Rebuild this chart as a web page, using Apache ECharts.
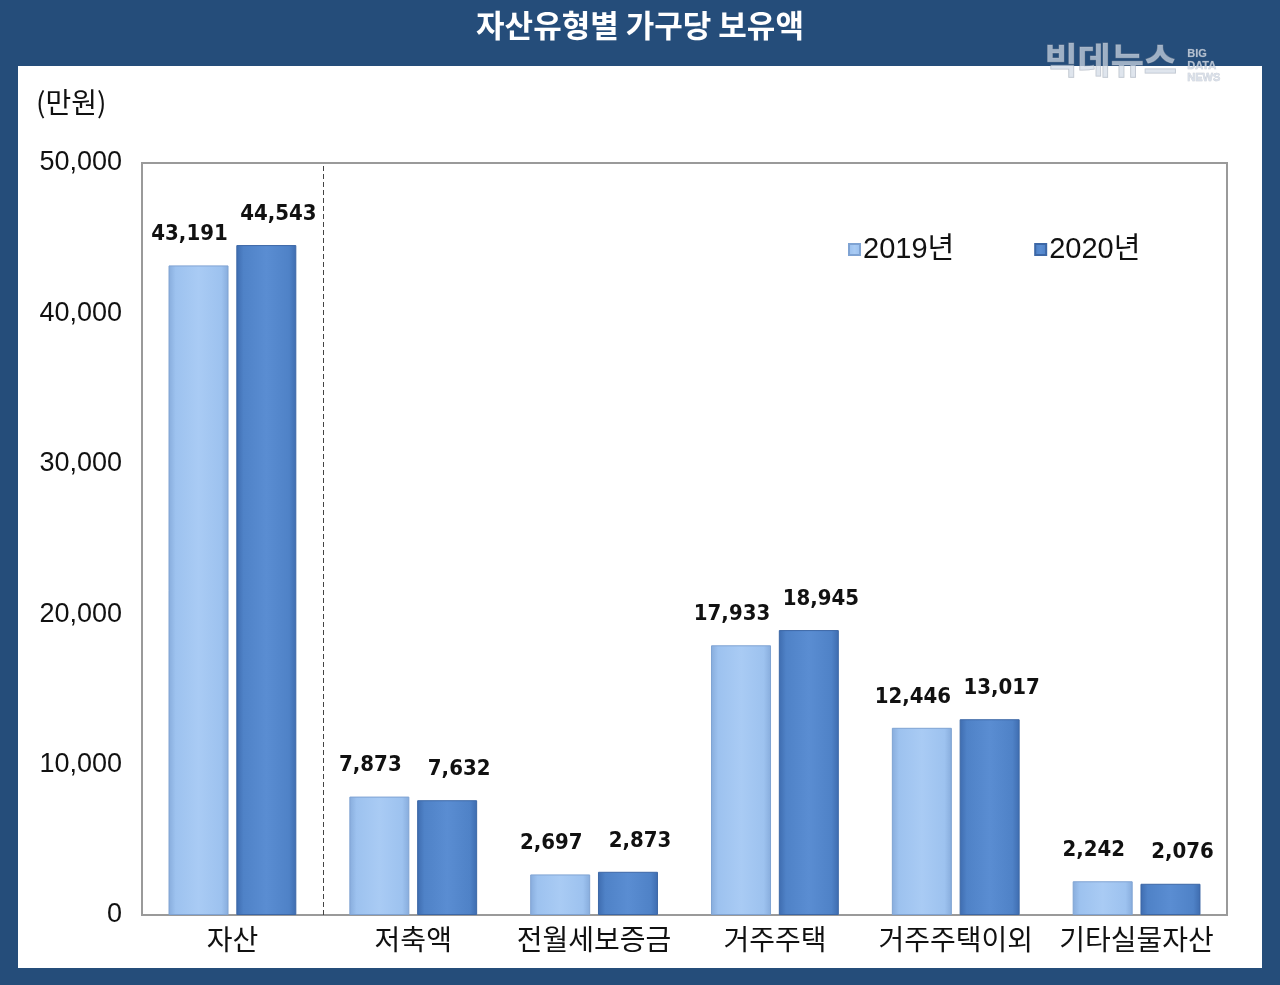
<!DOCTYPE html>
<html>
<head>
<meta charset="utf-8">
<script src="https://cdn.jsdelivr.net/npm/echarts@6/dist/echarts.min.js"></script>
<style>
html,body{margin:0;padding:0;background:#254d7a;}
#chart{width:1280px;height:985px;}
</style>
</head>
<body>
<div id="chart"></div>
<script>
const categories = ['자산', '저축액', '전월세보증금', '거주주택', '거주주택이외', '기타실물자산'];
const values2019 = [43191, 7873, 2697, 17933, 12446, 2242];
const values2020 = [44543, 7632, 2873, 18945, 13017, 2076];
const seriesNames = ['2019년', '2020년'];
const yMin = 0, yMax = 50000, yInterval = 10000;
const dividerAfter = 1; // dashed divider after the first category

const KR = '"Noto Sans CJK KR", "Noto Sans", sans-serif';
const NUM = '"DejaVu Sans Condensed", "DejaVu Sans", sans-serif';

function grad(edge, mid, light) {
  return new echarts.graphic.LinearGradient(0, 0, 1, 0, [
    {offset: 0, color: edge},
    {offset: 0.12, color: mid},
    {offset: 0.5, color: light},
    {offset: 0.88, color: mid},
    {offset: 1, color: edge}
  ]);
}
function fmt(v) { return Number(v).toLocaleString('en-US'); }

const chart = echarts.init(document.getElementById('chart'));
chart.setOption({
  backgroundColor: '#254d7a',
  animation: false,
  graphic: [
    {type: 'rect', z: -100, shape: {x: 18, y: 66, width: 1244, height: 902}, style: {fill: '#ffffff'}},
    {type: 'text', z: 100, left: 'center', top: 10, style: {text: '자산유형별 가구당 보유액', fill: '#ffffff', font: 'bold 31px ' + KR}},
    {type: 'text', z: 100, left: 36, top: 88, style: {text: '(만원)', fill: '#111', font: '28px ' + KR}},
    {type: 'text', z: 100, left: 1044, top: 42, style: {text: '빅데뉴스', fill: 'rgba(210,218,229,0.7)', stroke: 'rgba(140,150,165,0.6)', lineWidth: 1, font: 'bold 36px ' + KR}},
    {type: 'text', z: 100, left: 1187, top: 48, style: {text: 'BIG\nDATA\nNEWS', fill: 'rgba(210,218,229,0.8)', stroke: 'rgba(140,150,165,0.5)', lineWidth: 0.5, font: 'bold 11px "Liberation Sans Narrow", "Liberation Sans", sans-serif', lineHeight: 12}}
  ],
  legend: {
    left: 843, top: 230,
    itemWidth: 11, itemHeight: 11, itemGap: 80,
    icon: 'rect',
    textStyle: {fontSize: 29, color: '#111', fontFamily: '"Liberation Sans", ' + KR, padding: [0, 0, 0, -2]},
    data: seriesNames
  },
  grid: {
    left: 142, right: 53, top: 163, bottom: 70,
    show: true, borderColor: '#9a9a9a', borderWidth: 2, backgroundColor: 'transparent'
  },
  xAxis: [{
    type: 'category',
    data: categories,
    axisLine: {show: true, lineStyle: {color: '#9a9a9a', width: 2}},
    axisTick: {show: false},
    axisLabel: {interval: 0, fontSize: 28, color: '#111', fontFamily: KR, margin: 10},
    splitLine: {show: false}
  }, {
    type: 'value', min: 0, max: categories.length, show: false,
    position: 'bottom'
  }],
  yAxis: {
    type: 'value',
    min: yMin, max: yMax, interval: yInterval,
    axisLine: {show: false},
    axisTick: {show: false},
    splitLine: {show: false},
    axisLabel: {fontSize: 27, color: '#111', fontFamily: '"Liberation Sans", sans-serif', margin: 20, formatter: v => fmt(v)}
  },
  series: [
    {
      name: seriesNames[0], type: 'bar', data: values2019,
      barWidth: 60, barGap: '13%',
      itemStyle: {color: grad('#87acdc', '#9dc2ef', '#a9cbf4'), borderColor: '#7fa3d3', borderWidth: 1},
      label: {show: true, position: 'top', distance: 20, offset: [-9, 0], formatter: p => fmt(p.value),
        fontFamily: NUM, fontWeight: 'bold', fontSize: 22, color: '#111'}
    },
    {
      name: seriesNames[1], type: 'bar', data: values2020,
      barWidth: 60,
      itemStyle: {color: grad('#3e6caf', '#4f82c7', '#5a8dd2'), borderColor: '#3c67a6', borderWidth: 1},
      label: {show: true, position: 'top', distance: 20, offset: [12, 0], formatter: p => fmt(p.value),
        fontFamily: NUM, fontWeight: 'bold', fontSize: 22, color: '#111'}
    },
    {
      name: 'divider', type: 'line', xAxisIndex: 1, data: [], silent: true,
      markLine: {
        symbol: 'none', silent: true, label: {show: false},
        lineStyle: {color: '#444', type: [5, 3], width: 1},
        data: [{xAxis: dividerAfter}]
      }
    }
  ]
});
</script>
</body>
</html>
